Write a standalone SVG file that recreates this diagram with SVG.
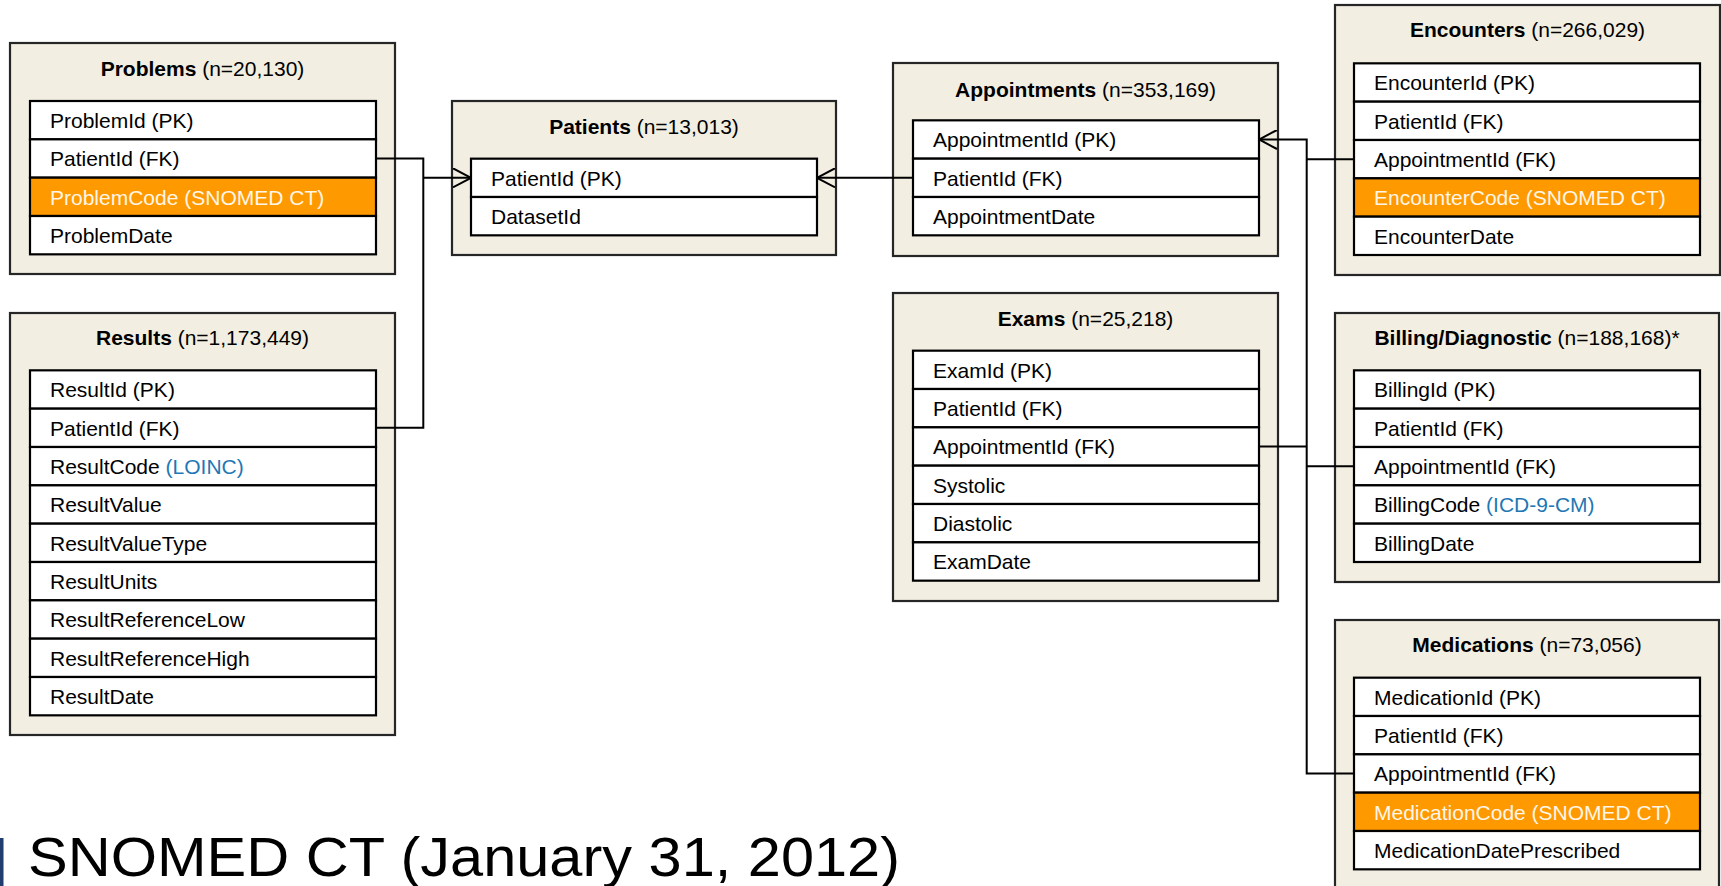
<svg xmlns="http://www.w3.org/2000/svg" width="1721" height="886" viewBox="0 0 1721 886">
<style>
.outer{fill:#F2EEE1;stroke:#262626;stroke-width:2.2}
.row{fill:#FFFFFF;stroke:#000;stroke-width:2.2}
.hl{fill:#FF9900;stroke:#000;stroke-width:2.2}
.t{font-family:"Liberation Sans",Arial,sans-serif;font-size:21px;fill:#000}
.tw{font-family:"Liberation Sans",Arial,sans-serif;font-size:21px;fill:#FFF6E8}
.title{font-family:"Liberation Sans",Arial,sans-serif;font-size:21px;fill:#000;text-anchor:middle}
.b{font-weight:bold}
.blue{fill:#1F78B4}
.conn{fill:none;stroke:#000;stroke-width:2}
</style>
<defs>
<marker id="crow" viewBox="0 0 20 20" refX="19" refY="10" markerWidth="20" markerHeight="20" markerUnits="userSpaceOnUse" orient="auto-start-reverse">
<path d="M1,0.5 L19,10 L1,19.5" fill="none" stroke="#000" stroke-width="2"/>
</marker>
</defs>

<g id="problems">
<rect class="outer" x="10" y="43" width="385" height="231"/>
<text class="title" x="202.5" y="76"><tspan class="b">Problems</tspan> (n=20,130)</text>
<rect class="row" x="30" y="101" width="346" height="38.33"/>
<rect class="row" x="30" y="139.33" width="346" height="38.33"/>
<rect class="hl" x="30" y="177.67" width="346" height="38.33"/>
<rect class="row" x="30" y="216" width="346" height="38.33"/>
<text class="t" x="50" y="128">ProblemId (PK)</text>
<text class="t" x="50" y="166.3">PatientId (FK)</text>
<text class="tw" x="50" y="204.7">ProblemCode (SNOMED CT)</text>
<text class="t" x="50" y="243">ProblemDate</text>
</g>

<g id="results">
<rect class="outer" x="10" y="313" width="385" height="422"/>
<text class="title" x="202.5" y="345"><tspan class="b">Results</tspan> (n=1,173,449)</text>
<rect class="row" x="30" y="370.33" width="346" height="38.33"/>
<rect class="row" x="30" y="408.67" width="346" height="38.33"/>
<rect class="row" x="30" y="447" width="346" height="38.33"/>
<rect class="row" x="30" y="485.33" width="346" height="38.33"/>
<rect class="row" x="30" y="523.67" width="346" height="38.33"/>
<rect class="row" x="30" y="562" width="346" height="38.33"/>
<rect class="row" x="30" y="600.33" width="346" height="38.33"/>
<rect class="row" x="30" y="638.67" width="346" height="38.33"/>
<rect class="row" x="30" y="677" width="346" height="38.33"/>
<text class="t" x="50" y="397.3">ResultId (PK)</text>
<text class="t" x="50" y="435.7">PatientId (FK)</text>
<text class="t" x="50" y="474">ResultCode <tspan class="blue">(LOINC)</tspan></text>
<text class="t" x="50" y="512.3">ResultValue</text>
<text class="t" x="50" y="550.7">ResultValueType</text>
<text class="t" x="50" y="589">ResultUnits</text>
<text class="t" x="50" y="627.3">ResultReferenceLow</text>
<text class="t" x="50" y="665.7">ResultReferenceHigh</text>
<text class="t" x="50" y="704">ResultDate</text>
</g>

<g id="patients">
<rect class="outer" x="452" y="101" width="384" height="154"/>
<text class="title" x="644" y="133.5"><tspan class="b">Patients</tspan> (n=13,013)</text>
<rect class="row" x="471" y="158.67" width="346" height="38.33"/>
<rect class="row" x="471" y="197" width="346" height="38.33"/>
<text class="t" x="491" y="185.7">PatientId (PK)</text>
<text class="t" x="491" y="224">DatasetId</text>
</g>

<g id="appointments">
<rect class="outer" x="893" y="63" width="385" height="193"/>
<text class="title" x="1085.5" y="96.5"><tspan class="b">Appointments</tspan> (n=353,169)</text>
<rect class="row" x="913" y="120.33" width="346" height="38.33"/>
<rect class="row" x="913" y="158.67" width="346" height="38.33"/>
<rect class="row" x="913" y="197" width="346" height="38.33"/>
<text class="t" x="933" y="147.3">AppointmentId (PK)</text>
<text class="t" x="933" y="185.7">PatientId (FK)</text>
<text class="t" x="933" y="224">AppointmentDate</text>
</g>

<g id="exams">
<rect class="outer" x="893" y="293" width="385" height="308"/>
<text class="title" x="1085.5" y="326"><tspan class="b">Exams</tspan> (n=25,218)</text>
<rect class="row" x="913" y="350.67" width="346" height="38.33"/>
<rect class="row" x="913" y="389" width="346" height="38.33"/>
<rect class="row" x="913" y="427.33" width="346" height="38.33"/>
<rect class="row" x="913" y="465.67" width="346" height="38.33"/>
<rect class="row" x="913" y="504" width="346" height="38.33"/>
<rect class="row" x="913" y="542.33" width="346" height="38.33"/>
<text class="t" x="933" y="377.7">ExamId (PK)</text>
<text class="t" x="933" y="416">PatientId (FK)</text>
<text class="t" x="933" y="454.3">AppointmentId (FK)</text>
<text class="t" x="933" y="492.7">Systolic</text>
<text class="t" x="933" y="531">Diastolic</text>
<text class="t" x="933" y="569.3">ExamDate</text>
</g>

<g id="encounters">
<rect class="outer" x="1335" y="5" width="385" height="270"/>
<text class="title" x="1527.5" y="37"><tspan class="b">Encounters</tspan> (n=266,029)</text>
<rect class="row" x="1354" y="63.33" width="346" height="38.33"/>
<rect class="row" x="1354" y="101.67" width="346" height="38.33"/>
<rect class="row" x="1354" y="140" width="346" height="38.33"/>
<rect class="hl" x="1354" y="178.33" width="346" height="38.33"/>
<rect class="row" x="1354" y="216.67" width="346" height="38.33"/>
<text class="t" x="1374" y="90.3">EncounterId (PK)</text>
<text class="t" x="1374" y="128.7">PatientId (FK)</text>
<text class="t" x="1374" y="167">AppointmentId (FK)</text>
<text class="tw" x="1374" y="205.3">EncounterCode (SNOMED CT)</text>
<text class="t" x="1374" y="243.7">EncounterDate</text>
</g>

<g id="billing">
<rect class="outer" x="1335" y="313" width="384" height="269"/>
<text class="title" x="1527" y="345"><tspan class="b">Billing/Diagnostic</tspan>  (n=188,168)*</text>
<rect class="row" x="1354" y="370.33" width="346" height="38.33"/>
<rect class="row" x="1354" y="408.67" width="346" height="38.33"/>
<rect class="row" x="1354" y="447" width="346" height="38.33"/>
<rect class="row" x="1354" y="485.33" width="346" height="38.33"/>
<rect class="row" x="1354" y="523.67" width="346" height="38.33"/>
<text class="t" x="1374" y="397.3">BillingId (PK)</text>
<text class="t" x="1374" y="435.7">PatientId (FK)</text>
<text class="t" x="1374" y="474">AppointmentId (FK)</text>
<text class="t" x="1374" y="512.3">BillingCode <tspan class="blue">(ICD-9-CM)</tspan></text>
<text class="t" x="1374" y="550.7">BillingDate</text>
</g>

<g id="medications">
<rect class="outer" x="1335" y="620" width="384" height="270"/>
<text class="title" x="1527" y="652"><tspan class="b">Medications</tspan> (n=73,056)</text>
<rect class="row" x="1354" y="677.67" width="346" height="38.33"/>
<rect class="row" x="1354" y="716" width="346" height="38.33"/>
<rect class="row" x="1354" y="754.33" width="346" height="38.33"/>
<rect class="hl" x="1354" y="792.67" width="346" height="38.33"/>
<rect class="row" x="1354" y="831" width="346" height="38.33"/>
<text class="t" x="1374" y="704.7">MedicationId (PK)</text>
<text class="t" x="1374" y="743">PatientId (FK)</text>
<text class="t" x="1374" y="781.3">AppointmentId (FK)</text>
<text class="tw" x="1374" y="819.7">MedicationCode (SNOMED CT)</text>
<text class="t" x="1374" y="858">MedicationDatePrescribed</text>
</g>

<g id="connectors">
<path class="conn" d="M376,158.5 H423.3 V427.8 H376"/>
<path class="conn" d="M423.3,177.8 H471" marker-end="url(#crow)"/>
<path class="conn" d="M913,177.8 H817" marker-end="url(#crow)"/>
<path class="conn" d="M1259,139.5 H1306.7 V773.5 H1354" marker-start="url(#crow)"/>
<path class="conn" d="M1354,159.2 H1306.7"/>
<path class="conn" d="M1259,446.5 H1306.7"/>
<path class="conn" d="M1306.7,466.2 H1354"/>
</g>

<g id="caption">
<rect x="0" y="838" width="3.5" height="48" fill="#1F3D6E"/>
<text x="28" y="876" font-family="Liberation Sans, Arial, sans-serif" font-size="56" fill="#000" textLength="872" lengthAdjust="spacingAndGlyphs">SNOMED CT (January 31, 2012)</text>
</g>
</svg>
